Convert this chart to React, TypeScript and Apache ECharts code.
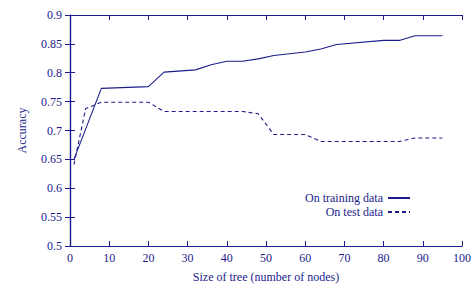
import React, { useEffect, useRef } from "react";
import * as echarts from "echarts";

const trainingData: [number, number][] = [
  [1, 0.65], [8, 0.773], [20, 0.776], [24, 0.801], [32, 0.805], [36, 0.814],
  [40, 0.82], [44, 0.82], [48, 0.824], [52, 0.83], [60, 0.836], [64, 0.841],
  [68, 0.849], [80, 0.856], [84, 0.856], [88, 0.864], [95, 0.864],
];
const testData: [number, number][] = [
  [1, 0.641], [4, 0.738], [8, 0.749], [20, 0.749], [24, 0.733], [44, 0.733],
  [48, 0.729], [52, 0.693], [60, 0.693], [64, 0.681], [84, 0.681], [88, 0.687],
  [95, 0.687],
];
const seriesNames = ["On training data", "On test data"];
const xTitle = "Size of tree (number of nodes)";
const yTitle = "Accuracy";

const C = "#1c1c8c";
const FONT = "Liberation Serif";

export default function App() {
  const ref = useRef<HTMLDivElement>(null);
  useEffect(() => {
    const chart = echarts.init(ref.current!, null, { renderer: "svg" });
    const axisCommon = {
      axisLine: { show: true, lineStyle: { color: C, width: 1.2 } },
      axisTick: { show: true, inside: true, length: 5, lineStyle: { color: C, width: 1 } },
      splitLine: { show: false },
    };
    chart.setOption({
      animation: false,
      textStyle: { fontFamily: FONT, color: C },
      grid: { left: 70, right: 10, top: 15, bottom: 36 },
      legend: {
        data: seriesNames,
        orient: "vertical",
        align: "right",
        right: 58,
        top: 187,
        itemWidth: 22,
        itemHeight: 10,
        itemGap: 2,
        itemStyle: { opacity: 0 },
        textStyle: { fontFamily: FONT, fontSize: 12, color: C, padding: [0, 0, 0, 0] },
      },
      xAxis: [
        {
          type: "value", min: 0, max: 100, interval: 10,
          name: xTitle, nameLocation: "middle", nameGap: 25,
          nameTextStyle: { fontFamily: FONT, fontSize: 12, color: C },
          axisLabel: { fontFamily: FONT, fontSize: 12, color: C, margin: 6 },
          ...axisCommon,
        },
        {
          type: "value", min: 0, max: 100, interval: 10, position: "top",
          axisLabel: { show: false }, ...axisCommon,
        },
      ],
      yAxis: [
        {
          type: "value", min: 0.5, max: 0.9, interval: 0.05,
          name: yTitle, nameLocation: "middle", nameGap: 42,
          nameTextStyle: { fontFamily: FONT, fontSize: 12, color: C },
          axisLabel: {
            fontFamily: FONT, fontSize: 12, color: C, margin: 8,
            formatter: (v: number) => String(parseFloat(v.toFixed(2))),
          },
          ...axisCommon,
        },
        {
          type: "value", min: 0.5, max: 0.9, interval: 0.05, position: "right",
          axisLabel: { show: false }, ...axisCommon,
        },
      ],
      series: [
        {
          name: seriesNames[0], type: "line", data: trainingData,
          symbol: "none", lineStyle: { color: C, width: 1.1, type: "solid" },
          itemStyle: { color: C },
        },
        {
          name: seriesNames[1], type: "line", data: testData,
          symbol: "none", lineStyle: { color: C, width: 1.1, type: [4, 3] },
          itemStyle: { color: C },
        },
      ],
    });
    return () => chart.dispose();
  }, []);
  return <div ref={ref} style={{ width: 474, height: 288, position: "absolute", left: 0, top: 0 }} />;
}
